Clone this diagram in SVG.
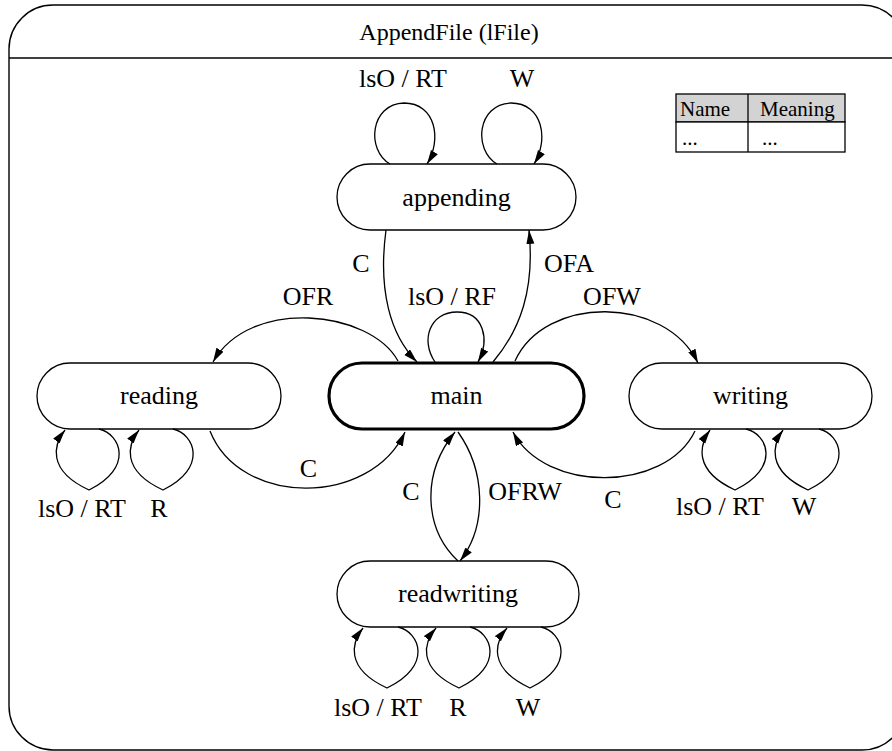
<svg xmlns="http://www.w3.org/2000/svg" width="892" height="751" viewBox="0 0 892 751">
<defs>
<marker id="ah" markerUnits="userSpaceOnUse" markerWidth="16" markerHeight="10" refX="14" refY="4" orient="auto">
<path d="M0,0 L14,4 L0,8 z" fill="#000"/>
</marker>
<style>
text{font-family:"Liberation Serif","Times New Roman",serif;fill:#000}
.lbl{font-size:26px;text-anchor:middle}
.tbl{font-size:21px}
.node{fill:#fff;stroke:#000;stroke-width:1.3}
.main{fill:#fff;stroke:#000;stroke-width:3.2}
.edge{fill:none;stroke:#000;stroke-width:1.3;marker-end:url(#ah)}
</style>
</defs>
<rect width="892" height="751" fill="#fff"/>
<g id="frame">
<rect x="9" y="5" width="897" height="745" rx="44" ry="44" fill="none" stroke="#000" stroke-width="1.4"/>
<line x1="9" y1="58" x2="892" y2="58" stroke="#000" stroke-width="1.4"/>
<text class="lbl" x="449" y="40" style="font-size:24px">AppendFile (lFile)</text>
</g>
<g id="legend">
<rect x="676" y="94" width="169" height="28" fill="#d3d3d3" stroke="#000" stroke-width="1.3"/>
<rect x="676" y="122" width="169" height="30" fill="#fff" stroke="#000" stroke-width="1.3"/>
<line x1="748" y1="94" x2="748" y2="152" stroke="#000" stroke-width="1.3"/>
<text class="tbl" x="680" y="116">Name</text>
<text class="tbl" x="760" y="116">Meaning</text>
<text class="tbl" x="682" y="145">...</text>
<text class="tbl" x="762" y="145">...</text>
</g>
<g id="appending">
<rect class="node" x="337" y="164" width="239" height="66" rx="33" ry="33"/>
<text class="lbl" x="456.5" y="206">appending</text>
</g>
<g id="main">
<rect class="main" x="329" y="363" width="255" height="66" rx="33" ry="33"/>
<text class="lbl" x="456.5" y="404">main</text>
</g>
<g id="reading">
<rect class="node" x="37" y="363" width="244" height="66" rx="33" ry="33"/>
<text class="lbl" x="159" y="404">reading</text>
</g>
<g id="writing">
<rect class="node" x="629" y="363" width="243" height="66" rx="33" ry="33"/>
<text class="lbl" x="750.5" y="404">writing</text>
</g>
<g id="readwriting">
<rect class="node" x="337" y="561" width="242" height="66" rx="33" ry="33"/>
<text class="lbl" x="458" y="602">readwriting</text>
</g>
<g id="connectors">
<!-- appending self loops -->
<path class="edge" d="M390,164 C366,150 370,104 404,103 C436,103 442,140 427,164"/>
<path class="edge" d="M497,164 C473,150 477,104 511,103 C543,103 549,140 534,164"/>
<text class="lbl" x="403" y="87">lsO / RT</text>
<text class="lbl" x="522" y="87">W</text>
<!-- appending <-> main -->
<path class="edge" d="M386,230 C378,290 390,335 417,362"/>
<text class="lbl" x="361" y="272">C</text>
<path class="edge" d="M493,362 C520,330 535,290 529,230"/>
<text class="lbl" x="569" y="272">OFA</text>
<!-- main self loop -->
<path class="edge" d="M435,362 C420,340 430,312 457,312 C484,312 490,340 478,362"/>
<text class="lbl" x="452" y="305">lsO / RF</text>
<!-- main <-> reading -->
<path class="edge" d="M398,361 C370,310 250,297 213,362"/>
<text class="lbl" x="308" y="305">OFR</text>
<path class="edge" d="M210,431 C240,507 370,507 405,432"/>
<text class="lbl" x="308.5" y="477">C</text>
<!-- main <-> writing -->
<path class="edge" d="M515,361 C545,295 665,295 698,363"/>
<text class="lbl" x="612" y="305">OFW</text>
<path class="edge" d="M695,431 C665,493 545,493 513,432"/>
<text class="lbl" x="613" y="508">C</text>
<!-- main <-> readwriting -->
<path class="edge" d="M458,561 C425,530 420,475 455,432"/>
<text class="lbl" x="411" y="500">C</text>
<path class="edge" d="M458,432 C485,470 488,525 460,561"/>
<text class="lbl" x="525" y="500">OFRW</text>
<!-- reading self loops -->
<path class="edge" d="M99,429 C121,434 134,468 89,490 C46,470 54,444 65,430"/>
<path class="edge" d="M173,429 C195,434 208,468 163,490 C120,470 128,444 139,430"/>
<text class="lbl" x="82" y="517">lsO / RT</text>
<text class="lbl" x="159" y="517">R</text>
<!-- writing self loops -->
<path class="edge" d="M746,429 C768,434 781,468 735,490 C692,470 700,444 710,430"/>
<path class="edge" d="M819,429 C841,434 854,468 808,490 C765,470 773,444 783,430"/>
<text class="lbl" x="720" y="515">lsO / RT</text>
<text class="lbl" x="804" y="515">W</text>
<!-- readwriting self loops -->
<path class="edge" d="M398,627 C420,632 433,666 387,688 C344,668 352,642 363,628"/>
<path class="edge" d="M470,627 C492,632 505,666 459,688 C416,668 424,642 436,628"/>
<path class="edge" d="M541,627 C563,632 576,666 530,688 C487,668 495,642 507,628"/>
<text class="lbl" x="378" y="716">lsO / RT</text>
<text class="lbl" x="458" y="716">R</text>
<text class="lbl" x="528" y="716">W</text>
</g>
</svg>
